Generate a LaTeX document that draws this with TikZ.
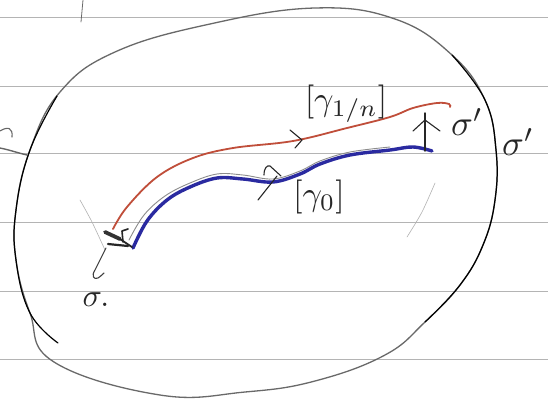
\documentclass[tikz,border=0pt]{standalone}
\definecolor{redink}{RGB}{192,78,58}
\definecolor{blueink}{RGB}{42,42,160}
\definecolor{pencil}{RGB}{105,105,105}
\definecolor{ruling}{RGB}{180,180,180}
\begin{document}
\begin{tikzpicture}[x=1pt,y=-1pt,
  rule/.style={ruling, line width=0.8pt},
  pencilline/.style={pencil, line width=1.3pt, line cap=round, line join=round},
  inkline/.style={black, line width=1.2pt, line cap=round, line join=round},
  faint/.style={black!30, line width=0.6pt, line cap=round},
  redcurve/.style={redink, line width=1.8pt, line cap=round},
  bluecurve/.style={blueink, line width=3.4pt, line cap=round},
  shadow/.style={black!45, line width=0.9pt, line cap=round},
  penmark/.style={black!85, line width=1.1pt, line cap=round, line join=round},
  hand/.style={inner sep=0pt, text=black!85}]
\useasboundingbox (0,0) rectangle (548,402);
\fill[white] (0,0) rectangle (548,402);
% ruled lines
\foreach \yy in {17,86,153,222,291,359}
  \draw[rule] (0,\yy) -- (548,\yy);
% small marks at the edges
\draw[pencilline, line width=0.8pt] (83,0) -- (81,22);
\draw[penmark, black!60] (0,131) .. controls (8,126) and (13,128) .. (12,137);
\draw[penmark, black!60, line width=1.4pt] (0,148) .. controls (10,150) and (18,153) .. (27,155);
% outer loop (pencil) with inked parts on the left and right
\draw[pencilline] plot[smooth cycle, tension=0.7] coordinates {(315,8) (395,19) (452,55) (485,100) (496,150) (495,200) (483,245) (460,285) (425,322) (385,355) (315,381) (245,392) (160,395) (54,362) (30,313) (16,260) (16,210) (30,150) (60,92) (115,52) (210,24)};
\draw[inkline] plot[smooth, tension=0.7] coordinates {(452,55) (485,100) (496,150) (495,200) (483,245) (460,285) (425,322)};
\draw[inkline] plot[smooth, tension=0.7] coordinates {(58,343) (30,313) (16,260) (16,210) (30,150) (57,96)};
% faint inner arcs
\draw[faint] plot[smooth] coordinates {(80,200) (92,222) (105,250)};
\draw[faint] plot[smooth] coordinates {(435,183) (422,212) (407,237)};
% paths
\draw[redcurve] plot[smooth, tension=0.6] coordinates {(113,229) (127,207) (157,177) (193,158) (233,148) (293,141) (347,128) (390,117) (413,108) (437,103) (449,104) (450,107)};
\draw[shadow] plot[smooth, tension=0.6] coordinates {(129,240) (144,215) (165,196) (190,183) (217,174) (243,175) (273,179) (300,171) (320,161) (350,152) (390,147)};
\draw[bluecurve] plot[smooth, tension=0.6] coordinates {(133,248) (147,221) (167,200) (190,187) (217,178) (243,179) (273,182) (300,174) (320,164) (350,155) (390,150) (413,147) (432,151)};
% arrow marks on the paths
\draw[penmark] (290,130) -- (302,140) -- (295,148);
\draw[penmark] (258,200) -- (277,176);
\draw[penmark] (264,175) .. controls (264,168) and (267,165) .. (270,166) -- (281,176);
% homotopy arrows at the end points
\draw[penmark, line width=3.8pt, black!80] (105,232) -- (120,239);
\draw[penmark, line width=1.8pt] (120,239) -- (132,247);
\draw[penmark, line width=2.2pt] (108,244) -- (128,246);
\draw[penmark, line width=1.6pt] (123,242) -- (122,231) -- (128,229);
\draw[penmark, line width=1.4pt] (425,151) -- (425,113);
\draw[penmark] (413,131) -- (425,120) -- (440,131);
% tail near sigma
\draw[penmark, black!75] (106,248) -- (95,270) .. controls (91,276) and (94,280) .. (98,278) .. controls (101,276) and (103,274) .. (104,273);
% labels
\node[hand, scale=3.4] (gn) at (346,104) {$[\gamma_{1/n}]$};
\node[hand, scale=3.4] (g0) at (319,197) {$[\gamma_0]$};
\node[hand, scale=3.6] (s1) at (467,122) {$\sigma'$};
\node[hand, scale=3.6] (s2) at (518,142) {$\sigma'$};
\node[hand, scale=3.2] (s0) at (96,300) {$\sigma.$};
\end{tikzpicture}
\end{document}
